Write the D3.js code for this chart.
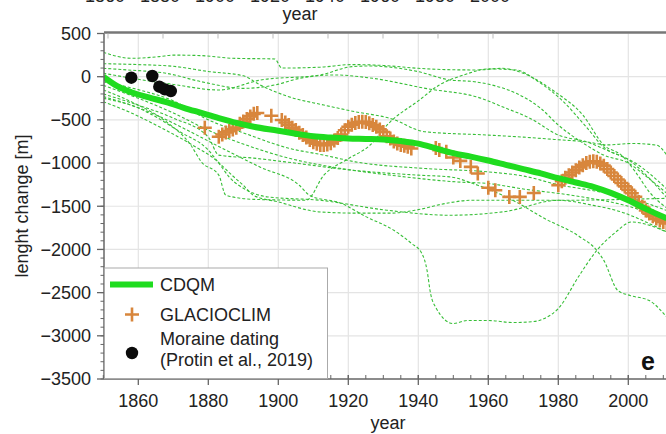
<!DOCTYPE html>
<html>
<head>
<meta charset="utf-8">
<script src="https://cdn.jsdelivr.net/npm/d3@7"></script>
<style>
  body { margin: 0; background: #fff; }
  text { font-family: "Liberation Sans", Arial, Helvetica, sans-serif; fill: #222; }
</style>
</head>
<body>
<svg id="chart" width="666" height="434"></svg>
<script>
var svgWidth = 666;
var svgHeight = 434;

// CDQM model (thick green line)
var cdqmYears = [1850, 1854, 1858, 1863, 1868, 1873, 1878, 1883, 1888, 1893, 1900, 1905, 1910, 1915, 1920, 1925, 1930, 1935, 1940, 1945, 1950, 1955, 1960, 1965, 1970, 1975, 1980, 1985, 1990, 1995, 2000, 2005, 2011];
var cdqmValues = [0, -110, -180, -240, -295, -360, -420, -480, -535, -580, -625, -660, -690, -705, -715, -720, -726, -745, -775, -830, -885, -925, -970, -1020, -1070, -1120, -1175, -1225, -1275, -1345, -1430, -1530, -1640];

// GLACIOCLIM observations
var glacioYears = [1879, 1883, 1884, 1885, 1886, 1887, 1888, 1889, 1890, 1891, 1892, 1893, 1894, 1898,
  1901, 1902, 1903, 1904, 1905, 1906, 1907, 1908, 1909, 1910, 1911, 1912, 1913, 1914, 1915, 1916, 1917, 1918, 1919, 1920,
  1921, 1922, 1923, 1924, 1925, 1926, 1927, 1928, 1929, 1930, 1931, 1932, 1933, 1934, 1935, 1936, 1937, 1938,
  1945, 1946, 1948, 1950, 1952, 1955, 1957, 1960, 1962, 1966, 1969, 1973,
  1980, 1981, 1982, 1983, 1984, 1985, 1986, 1987, 1988, 1989, 1990, 1991, 1992, 1993, 1994, 1995, 1996, 1997, 1998, 1999,
  2000, 2001, 2002, 2003, 2004, 2005, 2006, 2007, 2008, 2009, 2010, 2011];
var glacioValues = [-592, -696, -670, -645, -630, -610, -590, -545, -520, -490, -460, -430, -420, -452,
  -502, -530, -560, -590, -618, -650, -676, -705, -734, -760, -775, -790, -792, -785, -770, -740, -710, -670, -620, -580,
  -555, -535, -525, -522, -525, -540, -560, -580, -610, -640, -690, -715, -750, -773, -790, -800, -812, -831,
  -825, -850, -870, -935, -975, -1044, -1121, -1285, -1314, -1392, -1392, -1346,
  -1256, -1210, -1170, -1140, -1110, -1082, -1050, -1024, -1000, -986, -980, -986, -1005, -1030, -1070, -1110, -1150, -1190, -1230, -1270,
  -1310, -1350, -1390, -1450, -1505, -1550, -1585, -1615, -1643, -1665, -1682, -1700];

// Moraine dating (Protin et al., 2019)
var moraineYears = [1858, 1864, 1866, 1867.6, 1869.3];
var moraineValues = [-12, 8, -116, -147, -166];

// ensemble members (thin dashed green lines), [year, value]
var member1 = [[1850, 283], [1858, 213], [1866, 232], [1870, 250], [1878, 244], [1887, 213], [1899, 205], [1901, 100], [1912, 110], [1921, 140], [1930, 130], [1940, 97], [1950, 80], [1957, 78], [1964, 97], [1970, 39], [1979, -174], [1987, -444], [1993, -792], [1998, -908], [2002, -1100], [2006, -1334], [2011, -1520]];
var member2 = [[1850, 40], [1860, -30], [1870, -90], [1883, -154], [1895, -38], [1912, 20], [1921, 116], [1926, 124], [1940, 58], [1949, -38], [1956, -58], [1961, -96], [1968, -193], [1975, -367], [1980, -560], [1988, -792], [1993, -908], [2000, -1000], [2005, -1150], [2011, -1350]];
var member3 = [[1850, 97], [1857, 78], [1868, 39], [1878, -58], [1890, -135], [1899, -96], [1906, -20], [1916, 20], [1927, -19], [1942, -135], [1958, -251], [1964, -348], [1972, -483], [1980, -676], [1988, -754], [1995, -870], [2002, -1000], [2011, -1300]];
var member4 = [[1850, 150], [1860, 140], [1870, 120], [1880, 60], [1890, 10], [1895, -100], [1903, -232], [1913, -328], [1922, -406], [1932, -483], [1942, -638], [1960, -676], [1970, -700], [1980, -730], [1988, -754], [1994, -790], [2001, -773], [2008, -792], [2011, -908]];
var member5 = [[1850, -154], [1858, -290], [1868, -522], [1875, -792], [1878, -986], [1883, -1140], [1885, -1372], [1893, -1420], [1908, -1430], [1913, -1140], [1920, -950], [1926, -800], [1932, -522], [1940, -280], [1946, -96], [1953, 20], [1960, 90], [1968, 78], [1974, -50], [1981, -271], [1988, -583], [1993, -816], [2000, -960], [2011, -1400]];
var member6 = [[1850, -250], [1858, -330], [1866, -460], [1875, -640], [1885, -850], [1895, -1050], [1906, -1257], [1909, -1375], [1918, -1467], [1925, -1620], [1933, -1778], [1938, -1929], [1941, -2045], [1942.5, -2243], [1943.5, -2510], [1945, -2672], [1950, -2858], [1954, -2823], [1960, -2823], [1967, -2846], [1973, -2835], [1976, -2800], [1980, -2684], [1986, -2301], [1991, -2011], [1996, -1814], [2001, -1682], [2006, -1720], [2011, -1800]];
var member7 = [[1850, -290], [1858, -420], [1866, -580], [1875, -780], [1882, -960], [1887, -1150], [1890, -1257], [1893, -1375], [1900, -1450], [1912, -1566], [1923, -1580], [1932, -1580], [1939, -1547], [1948, -1466], [1955, -1431], [1980, -1431], [2011, -1408]];
var member8 = [[1850, -200], [1860, -330], [1870, -480], [1880, -700], [1883, -908], [1893, -943], [1902, -986], [1921, -1082], [1940, -1140], [1949, -1160], [1957, -1257], [1967, -1431], [1976, -1640], [1986, -1850], [1991, -2011], [1993, -2127], [1997, -2475], [2000.5, -2533], [2006, -2592], [2011, -2785]];
var member9 = [[1850, -230], [1862, -400], [1872, -640], [1880, -850], [1883, -1000], [1886, -1163], [1891, -1314], [1897, -1392], [1912, -1431], [1931, -1546], [1949, -1604], [1965, -1560], [1980, -1431], [1990, -1490], [1998, -1566], [2005, -1682], [2011, -1798]];
var member10 = [[1850, -60], [1860, -150], [1870, -280], [1880, -500], [1890, -650], [1903, -828], [1913, -908], [1922, -986], [1942, -1063], [1960, -1102], [1970, -1150], [1980, -1250], [1990, -1320], [2000, -1400], [2011, -1550]];
var member11 = [[1850, -100], [1860, -250], [1870, -420], [1880, -620], [1890, -780], [1903, -943], [1918, -1063], [1932, -1140], [1951, -1218], [1960, -1237], [1970, -1300], [1985, -1380], [2000, -1500], [2011, -1650]];
var members = [member1, member2, member3, member4, member5, member6, member7, member8, member9, member10, member11];

var yTicks = [500, 0, -500, -1000, -1500, -2000, -2500, -3000, -3500];
var xTicks = [1860, 1880, 1900, 1920, 1940, 1960, 1980, 2000];
// cut-off tick labels of the panel above
var topLabels = ["1860", "1880", "1900", "1920", "1940", "1960", "1980", "2000"];

var pLeft = 104, pRight = 666, pTop = 33.5, pBottom = 379;

var x = d3.scaleLinear().domain([1850, 2011]).range([103.3, 666.8]);
var y = d3.scaleLinear().domain([-3500, 500]).range([pBottom, pTop]);

var svg = d3.select("#chart");

svg.append("defs").append("clipPath").attr("id", "plotclip")
  .append("rect").attr("x", pLeft).attr("y", pTop).attr("width", pRight - pLeft).attr("height", pBottom - pTop);

// grid
var grid = svg.append("g");
grid.selectAll("line.v").data(xTicks).join("line")
  .attr("class", "v")
  .attr("x1", d => x(d)).attr("x2", d => x(d)).attr("y1", pTop).attr("y2", pBottom)
  .attr("stroke", "#e4e4e4").attr("stroke-width", 1.2);
grid.selectAll("line.h").data(yTicks.slice(1, -1)).join("line")
  .attr("class", "h")
  .attr("x1", pLeft).attr("x2", pRight).attr("y1", d => y(d)).attr("y2", d => y(d))
  .attr("stroke", "#e4e4e4").attr("stroke-width", 1.2);

var plot = svg.append("g").attr("clip-path", "url(#plotclip)");

var memberLine = d3.line().x(d => x(d[0])).y(d => y(d[1])).curve(d3.curveMonotoneX);
plot.selectAll("path.member").data(members).join("path")
  .attr("class", "member")
  .attr("d", memberLine)
  .attr("fill", "none")
  .attr("stroke", "#38bf38")
  .attr("stroke-width", 1.1)
  .attr("stroke-dasharray", "3,2");

var crossPath = "M-7,0H7M0,-7V7";
plot.selectAll("path.glacio").data(glacioYears).join("path")
  .attr("class", "glacio")
  .attr("transform", (d, i) => "translate(" + x(d) + "," + y(glacioValues[i]) + ")")
  .attr("d", crossPath)
  .attr("stroke", "#d8863c")
  .attr("stroke-width", 2.6)
  .attr("fill", "none");

var cdqmLine = d3.line().x(d => x(d)).y((d, i) => y(cdqmValues[i])).curve(d3.curveMonotoneX);
plot.append("path")
  .datum(cdqmYears)
  .attr("d", cdqmLine)
  .attr("fill", "none")
  .attr("stroke", "#1fdc1f")
  .attr("stroke-width", 6);

plot.selectAll("circle.moraine").data(moraineYears).join("circle")
  .attr("class", "moraine")
  .attr("cx", d => x(d)).attr("cy", (d, i) => y(moraineValues[i]))
  .attr("r", 6.2)
  .attr("fill", "#0b0b0b");

// left axis
var yAxis = svg.append("g").attr("transform", "translate(" + pLeft + ",0)");
yAxis.append("line").attr("x1", 0).attr("x2", 0).attr("y1", pTop).attr("y2", pBottom)
  .attr("stroke", "#666").attr("stroke-width", 1.5);
yAxis.selectAll("line.minor").data(d3.range(-3500, 501, 100)).join("line")
  .attr("class", "minor")
  .attr("x1", -3.5).attr("x2", 0).attr("y1", d => y(d)).attr("y2", d => y(d))
  .attr("stroke", "#666").attr("stroke-width", 1);
yAxis.selectAll("line.major").data(yTicks).join("line")
  .attr("class", "major")
  .attr("x1", -7).attr("x2", 0).attr("y1", d => y(d)).attr("y2", d => y(d))
  .attr("stroke", "#666").attr("stroke-width", 1.3);
yAxis.selectAll("text").data(yTicks).join("text")
  .attr("x", -13).attr("y", d => y(d)).attr("dy", "0.35em")
  .attr("text-anchor", "end").attr("font-size", 18)
  .text(d => d3.format("d")(d));

// bottom axis
var xAxis = svg.append("g").attr("transform", "translate(0," + pBottom + ")");
xAxis.append("line").attr("x1", pLeft).attr("x2", pRight).attr("y1", 0).attr("y2", 0)
  .attr("stroke", "#666").attr("stroke-width", 1.5);
xAxis.selectAll("line.minor").data(d3.range(1850, 2012, 5)).join("line")
  .attr("class", "minor")
  .attr("x1", d => x(d)).attr("x2", d => x(d)).attr("y1", -4).attr("y2", 0)
  .attr("stroke", "#666").attr("stroke-width", 1);
xAxis.selectAll("line.major").data(xTicks).join("line")
  .attr("class", "major")
  .attr("x1", d => x(d)).attr("x2", d => x(d)).attr("y1", -4).attr("y2", 6)
  .attr("stroke", "#666").attr("stroke-width", 1.3);
xAxis.selectAll("text").data(xTicks).join("text")
  .attr("x", d => x(d)).attr("y", 28)
  .attr("text-anchor", "middle").attr("font-size", 18)
  .text(d => d);

// top border (bottom axis of the panel above)
svg.append("line").attr("x1", pLeft).attr("x2", pRight).attr("y1", pTop - 1).attr("y2", pTop - 1)
  .attr("stroke", "#777").attr("stroke-width", 2.5);
svg.selectAll("line.toptick").data(topLabels).join("line")
  .attr("class", "toptick")
  .attr("x1", (d, i) => 108 + i * 55).attr("x2", (d, i) => 108 + i * 55)
  .attr("y1", pTop).attr("y2", pTop + 5)
  .attr("stroke", "#bbb").attr("stroke-width", 1);
svg.selectAll("text.toplab").data(topLabels).join("text")
  .attr("class", "toplab")
  .attr("x", (d, i) => 105 + i * 55).attr("y", 2)
  .attr("text-anchor", "middle").attr("font-size", 18)
  .text(d => d);
svg.append("text").attr("x", 300).attr("y", 19.5)
  .attr("text-anchor", "middle").attr("font-size", 18).text("year");

// axis titles
svg.append("text").attr("x", 388).attr("y", 429)
  .attr("text-anchor", "middle").attr("font-size", 18).text("year");
svg.append("text")
  .attr("transform", "translate(28,206) rotate(-90)")
  .attr("text-anchor", "middle").attr("font-size", 18).text("lenght change [m]");

// legend
var legend = svg.append("g");
legend.append("rect").attr("x", pLeft + 0.5).attr("y", 268).attr("width", 223).attr("height", pBottom - 268 - 0.5)
  .attr("fill", "#fff").attr("stroke", "#aaa").attr("stroke-width", 1);
legend.append("line").attr("x1", 110).attr("x2", 153).attr("y1", 284.5).attr("y2", 284.5)
  .attr("stroke", "#1fdc1f").attr("stroke-width", 6);
legend.append("text").attr("x", 160).attr("y", 291).attr("font-size", 18).text("CDQM");
legend.append("path").attr("transform", "translate(132,314.5)").attr("d", crossPath)
  .attr("stroke", "#d8863c").attr("stroke-width", 2.6);
legend.append("text").attr("x", 160).attr("y", 320.5).attr("font-size", 18).text("GLACIOCLIM");
legend.append("circle").attr("cx", 132).attr("cy", 353).attr("r", 6.2).attr("fill", "#0b0b0b");
legend.append("text").attr("x", 160).attr("y", 345).attr("font-size", 18).text("Moraine dating");
legend.append("text").attr("x", 160).attr("y", 366).attr("font-size", 18).text("(Protin et al., 2019)");

// panel letter
svg.append("text").attr("x", 641).attr("y", 370).attr("font-size", 25).attr("font-weight", "bold")
  .style("fill", "#111").text("e");
</script>
</body>
</html>
